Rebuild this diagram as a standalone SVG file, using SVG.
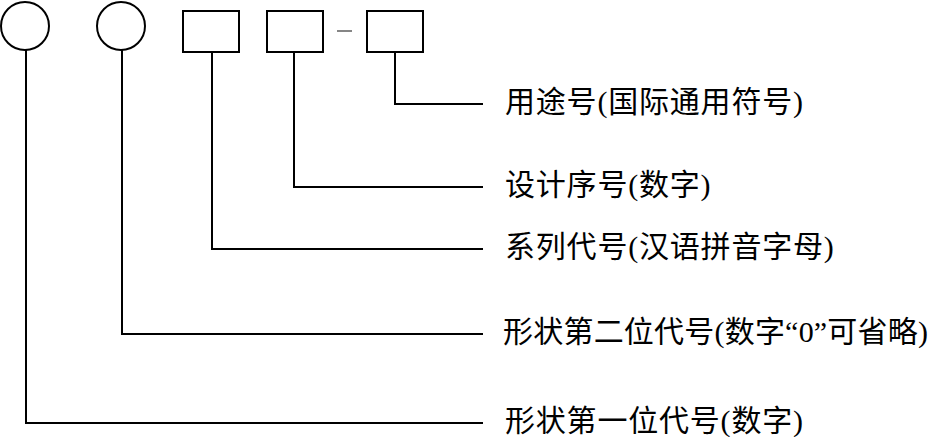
<svg xmlns="http://www.w3.org/2000/svg" width="935" height="437" viewBox="0 0 935 437">
<style>
.shape{fill:none;stroke:#000;stroke-width:2}
.conn{fill:none;stroke:#000;stroke-width:2}
.lbl{font-family:"Liberation Serif","Noto Sans CJK SC",serif;font-size:30px;fill:#000;letter-spacing:0.8px}
.tight{letter-spacing:0}
</style>
<rect width="935" height="437" fill="#fff"/>
<g id="node-circle1"><circle class="shape" cx="25" cy="26" r="24"/></g>
<g id="node-circle2"><circle class="shape" cx="121" cy="26" r="24"/></g>
<g id="node-box1"><rect class="shape" x="183" y="11" width="56" height="41"/></g>
<g id="node-box2"><rect class="shape" x="267" y="11" width="56" height="41"/></g>
<g id="node-dash"><line x1="337" y1="31" x2="352" y2="31" stroke="#444" stroke-width="1.3"/></g>
<g id="node-box3"><rect class="shape" x="367" y="11" width="56" height="41"/></g>
<g id="connectors">
<polyline class="conn" points="395,52 395,104 483,104"/>
<polyline class="conn" points="294,52 294,187 483,187"/>
<polyline class="conn" points="212,52 212,249 483,249"/>
<polyline class="conn" points="122,50 122,334 483,334"/>
<polyline class="conn" points="26,50 26,423 483,423"/>
</g>
<g id="label1"><text class="lbl" x="505" y="112">用途号(国际通用符号)</text></g>
<g id="label2"><text class="lbl" x="505" y="195">设计序号(数字)</text></g>
<g id="label3"><text class="lbl" x="505" y="257">系列代号(汉语拼音字母)</text></g>
<g id="label4"><text class="lbl tight" x="503" y="342" textLength="425" lengthAdjust="spacing">形状第二位代号(数字“0”可省略)</text></g>
<g id="label5"><text class="lbl" x="505" y="431">形状第一位代号(数字)</text></g>
</svg>
